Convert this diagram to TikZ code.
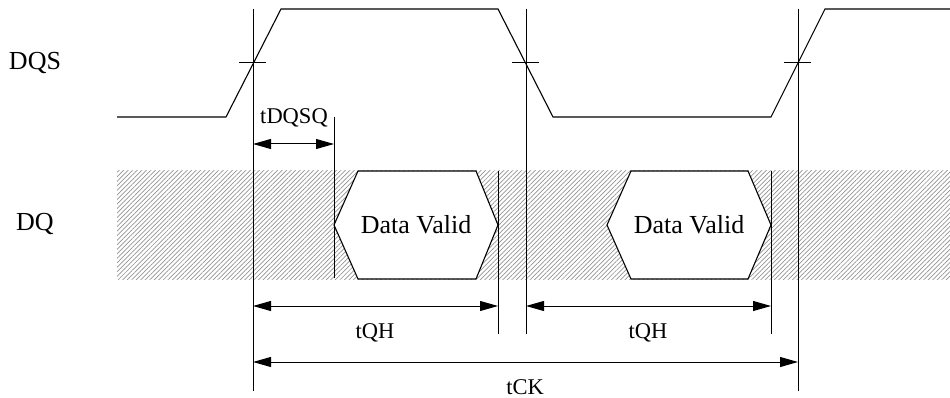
\documentclass[tikz,border=0pt]{standalone}
\usepackage{fontspec}
\setmainfont{Liberation Serif}
\usetikzlibrary{arrows.meta,patterns.meta}
\begin{document}
\begin{tikzpicture}[x=1pt,y=-1pt,
  wave/.style={line width=1.1pt,line join=miter},
  guide/.style={line width=1pt},
  dimline/.style={line width=1pt,
    {Triangle[length=18pt,width=10pt]}-{Triangle[length=18pt,width=10pt]}},
  biglbl/.style={font=\fontsize{26}{26}\selectfont,inner sep=0pt},
  smalllbl/.style={font=\fontsize{22.5}{22.5}\selectfont,inner sep=0pt},
  hatch/.style={pattern={Lines[angle=45,distance=3.2pt,line width=0.7pt]},
    pattern color=gray!85},
  validbox/.style={wave,fill=white}]
\useasboundingbox (0,0) rectangle (950,398);

% undefined-data band
\fill[hatch] (117,171) rectangle (950,279);

% signal names
\node[biglbl] (dqs) at (35,63) {DQS};
\node[biglbl] (dq) at (35,224) {DQ};

% DQS waveform
\draw[wave] (117,117) -- (226,117) -- (281,9) -- (498,9) -- (553,117)
  -- (771,117) -- (825,9) -- (950,9);

% data valid windows
\draw[validbox] (334,225) -- (358,171) -- (476,171) -- (498,225)
  -- (476,279) -- (358,279) -- cycle;
\node[biglbl] (dv1) at (416,225) {Data Valid};
\draw[validbox] (607,225) -- (631,171) -- (748,171) -- (771,225)
  -- (748,279) -- (631,279) -- cycle;
\node[biglbl] (dv2) at (689,225) {Data Valid};

% reference lines
\coordinate (aT) at (253,9);   \coordinate (aB) at (253,391);
\coordinate (bT) at (334,117); \coordinate (bB) at (334,278);
\coordinate (cT) at (498,171); \coordinate (cB) at (498,334);
\coordinate (dT) at (526,9);   \coordinate (dB) at (526,334);
\coordinate (eT) at (771,171); \coordinate (eB) at (771,334);
\coordinate (fT) at (798,9);   \coordinate (fB) at (798,391);
\foreach \l in {a,b,c,d,e,f} \draw[guide] (\l T) -- (\l B);

% crossing marks on the DQS edges
\foreach \l/\x in {a/253,d/526,f/798}{
  \coordinate (\l L) at (\x-14,63);
  \coordinate (\l R) at (\x+13,63);
  \draw[guide] (\l L) -- (\l R);
}

% timing dimensions
\coordinate (q1) at (253,144); \coordinate (q2) at (334,144);
\draw[dimline] (q1) -- (q2);
\node[smalllbl] (tdqsq) at (294,118) {tDQSQ};

\coordinate (h1) at (253,306); \coordinate (h2) at (498,306);
\draw[dimline] (h1) -- (h2);
\node[smalllbl] (tqh1) at (375,333) {tQH};

\coordinate (h3) at (526,306); \coordinate (h4) at (771,306);
\draw[dimline] (h3) -- (h4);
\node[smalllbl] (tqh2) at (648,333) {tQH};

\coordinate (k1) at (253,362); \coordinate (k2) at (798,362);
\draw[dimline] (k1) -- (k2);
\node[smalllbl] (tck) at (525,387) {tCK};
\end{tikzpicture}
\end{document}
